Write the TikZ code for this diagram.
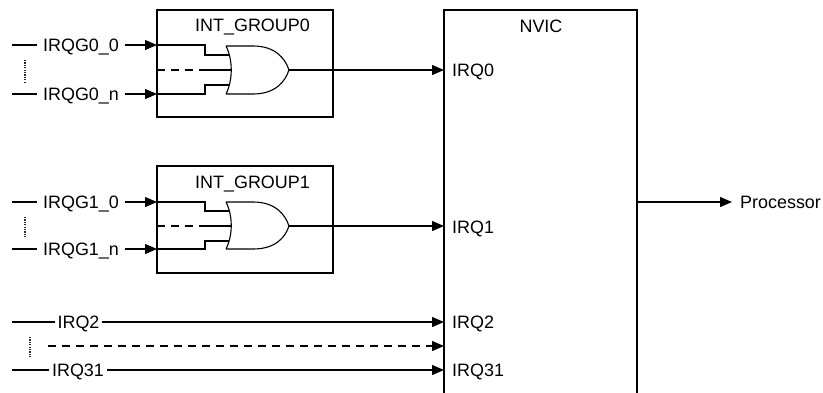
\documentclass[tikz,border=0pt]{standalone}
\usepackage{fontspec}
\setmainfont{Liberation Sans}
\usetikzlibrary{arrows.meta}
\begin{document}
\begin{tikzpicture}[x=1bp,y=-1bp,
  every node/.style={font=\fontsize{18}{21}\selectfont, inner sep=0pt, text height=12.9bp, text depth=0pt},
  blk/.style={draw, line width=2bp, anchor=north west, outer sep=0pt},
  wire/.style={line width=1.1bp},
  arr/.style={wire, -{Triangle[length=12bp,width=10bp]}},
  dsh/.style={wire, dash pattern=on 8bp off 6bp},
  dots/.style={line width=1.1bp, black!85, dash pattern=on 1.2bp off 1.2bp},
  lbl/.style={inner xsep=5.5bp},
  gate/.style={line width=1.1bp},
]
\useasboundingbox (0,0) rectangle (823,392);

% blocks
\node[blk, minimum width=176bp, minimum height=107bp] (g0) at (157,10) {};
\node[blk, minimum width=176bp, minimum height=107bp] (g1) at (157,166) {};
\node[blk, minimum width=193bp, minimum height=400bp] (nvic) at (444,10) {};

\node (t0) at (252.5,25) {INT\_GROUP0};
\node (t1) at (252.5,182) {INT\_GROUP1};
\node (tn) at (541,26) {NVIC};

% NVIC port labels
\node[anchor=west] (p0) at (452,70) {IRQ0};
\node[anchor=west] (p1) at (452,227) {IRQ1};
\node[anchor=west] (p2) at (452,322) {IRQ2};
\node[anchor=west] (p31) at (452,370) {IRQ31};

% ---------- group 0 ----------
\coordinate (s00) at (12,45);
\coordinate (s0n) at (12,94);
\node[lbl] (l00) at (81,45) {IRQG0\_0};
\node[lbl] (l0n) at (81,94) {IRQG0\_n};
\draw[wire] (s00) -- (l00);
\draw[wire] (s0n) -- (l0n);
\draw[arr] (l00) -- (g0.west |- l00);
\draw[arr] (l0n) -- (g0.west |- l0n);
\coordinate (d0a) at (25,60);
\coordinate (d0b) at (25,82);
\draw[dots] (d0a) -- (d0b);

% gate 0
\draw[gate] (226,46) .. controls (233,60) and (233,80) .. (226,94);
\draw[gate] (226,46) -- (253,46) .. controls (275,46) and (285,58) .. (289,70)
  .. controls (285,82) and (275,94) .. (253,94) -- (226,94);
\coordinate (g0a) at (229.4,55);
\coordinate (g0b) at (229.4,85);
\coordinate (g0m) at (231.3,70);
\coordinate (g0o) at (289,70);
\coordinate (g0k) at (205,70);
\draw[wire] (g0.west |- l00) -- (205,45) -- (205,55) -- (g0a);
\draw[wire] (g0.west |- l0n) -- (205,94) -- (205,85) -- (g0b);
\draw[dsh] (g0.west |- g0m) -- (g0k);
\draw[wire] (g0k) -- (g0m);
\draw[arr] (g0o) -- (nvic.west |- g0o);

% ---------- group 1 ----------
\coordinate (s10) at (12,202);
\coordinate (s1n) at (12,249);
\node[lbl] (l10) at (81,202) {IRQG1\_0};
\node[lbl] (l1n) at (81,249) {IRQG1\_n};
\draw[wire] (s10) -- (l10);
\draw[wire] (s1n) -- (l1n);
\draw[arr] (l10) -- (g1.west |- l10);
\draw[arr] (l1n) -- (g1.west |- l1n);
\coordinate (d1a) at (25,217);
\coordinate (d1b) at (25,238);
\draw[dots] (d1a) -- (d1b);

% gate 1
\draw[gate] (226,202) .. controls (233,216) and (233,235) .. (226,249);
\draw[gate] (226,202) -- (253,202) .. controls (275,202) and (285,214) .. (289,226)
  .. controls (285,238) and (275,249) .. (253,249) -- (226,249);
\coordinate (g1a) at (229.4,211);
\coordinate (g1b) at (229.4,241);
\coordinate (g1m) at (231.3,226);
\coordinate (g1o) at (289,226);
\coordinate (g1k) at (205,226);
\draw[wire] (g1.west |- l10) -- (205,202) -- (205,211) -- (g1a);
\draw[wire] (g1.west |- l1n) -- (205,249) -- (205,241) -- (g1b);
\draw[dsh] (g1.west |- g1m) -- (g1k);
\draw[wire] (g1k) -- (g1m);
\draw[arr] (g1o) -- (nvic.west |- g1o);

% ---------- direct IRQs ----------
\coordinate (s2) at (12,322);
\coordinate (s31) at (12,370);
\node[inner xsep=2bp] (l2) at (78.5,322) {IRQ2};
\node[inner xsep=3bp] (l31) at (78,370) {IRQ31};
\draw[wire] (s2) -- (l2);
\draw[wire] (s31) -- (l31);
\draw[arr] (l2) -- (nvic.west |- l2);
\draw[arr] (l31) -- (nvic.west |- l31);
\coordinate (sd) at (48,346);
\draw[dsh, -{Triangle[length=12bp,width=10bp]}] (sd) -- (nvic.west |- sd);
\coordinate (d2a) at (30,337);
\coordinate (d2b) at (30,358);
\draw[dots] (d2a) -- (d2b);

% ---------- output ----------
\node[anchor=west, inner xsep=8bp] (proc) at (732,202) {Processor};
\draw[arr] (nvic.east |- proc) -- (proc.west);
\end{tikzpicture}
\end{document}
